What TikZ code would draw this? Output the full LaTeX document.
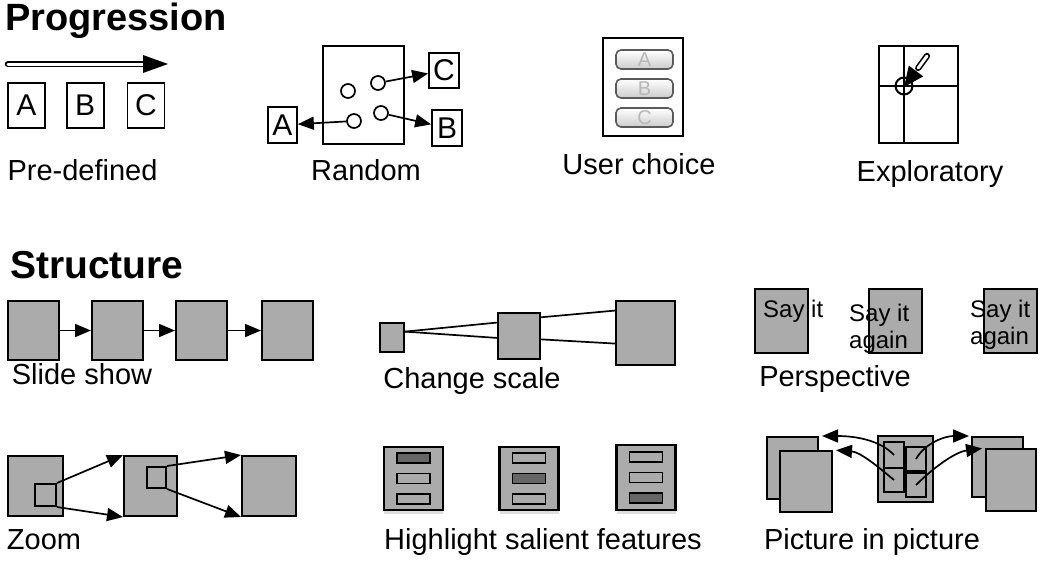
\documentclass[tikz,border=0pt]{standalone}
\usepackage{fontspec}
\setmainfont{Liberation Sans}
\usetikzlibrary{arrows.meta, positioning, calc, shadows}
\definecolor{slidegray}{HTML}{ABABAB}
\definecolor{markgray}{HTML}{666666}
\definecolor{buttonedge}{HTML}{5A5A5A}
\definecolor{buttontext}{HTML}{B8B8B8}

\begin{document}
\begin{tikzpicture}[x=1pt, y=-1pt,
    heading/.style={font=\bfseries\fontsize{38}{40}\selectfont, anchor=base west, inner sep=0pt},
    caption/.style={font=\fontsize{29}{32}\selectfont, anchor=base, inner sep=0pt},
    letterbox/.style={draw, line width=1.7pt, inner sep=0pt, font=\fontsize{30}{30}\selectfont},
    frame/.style={draw, line width=2pt, inner sep=0pt},
    slide/.style={draw, fill=slidegray, line width=2pt, inner sep=0pt},
    dot/.style={circle, draw, line width=1.7pt, minimum size=14pt, inner sep=0pt},
    button/.style={draw=buttonedge, line width=1.6pt, rounded corners=5pt, minimum width=57pt,
      minimum height=19pt, inner sep=0pt, top color=white, bottom color=gray!40,
      text=buttontext, font=\fontsize{20}{20}\selectfont},
    bar/.style={draw, line width=1.5pt, fill=slidegray, minimum width=33pt, minimum height=10pt, inner sep=0pt},
    saytext/.style={font=\fontsize{24}{27}\selectfont, align=left, anchor=north west, inner sep=0pt},
    lifted/.style={drop shadow={shadow xshift=0pt, shadow yshift=-4pt, opacity=0.25}},
    tip/.style={-{Triangle[length=16pt, width=13pt]}, line width=1.7pt}]

    \useasboundingbox (0,0) rectangle (1051,560);

    % Progression
    \node (progtitle) [heading] at (5,30) {Progression};

    \coordinate (shaftstart) at (8,64);
    \coordinate (shaftend) at (146,64);
    \coordinate (shafttip) at (168,64);
    \draw [double=white, double distance=3pt, line width=1.8pt, line cap=round] (shaftstart) -- (shaftend);
    \fill ($(shafttip)+(-25,-9)$) -- (shafttip) -- ($(shafttip)+(-25,9)$) -- cycle;
    \node (preA) [letterbox, minimum width=37pt, minimum height=45pt] at (26.5,105.5) {A};
    \node (preB) [letterbox, minimum width=37pt, minimum height=45pt, right=20pt of preA] {B};
    \node (preC) [letterbox, minimum width=37pt, minimum height=45pt, right=22pt of preB] {C};
    \node (predef) [caption] at (82.5,180) {Pre-defined};

    \node (randframe) [frame, minimum width=81pt, minimum height=98pt] at (363.5,95) {};
    \node (rdot1) [dot] at (348,91) {};
    \node (rdot2) [dot] at (378,83) {};
    \node (rdot3) [dot] at (354,121) {};
    \node (rdot4) [dot] at (381,113) {};
    \node (randC) [letterbox, minimum width=30pt, minimum height=35pt] at (444,70.5) {C};
    \node (randA) [letterbox, minimum width=29pt, minimum height=36pt] at (282.5,125) {A};
    \node (randB) [letterbox, minimum width=30pt, minimum height=36pt] at (447,128) {B};
    \draw [tip] (rdot2) -- (randC);
    \draw [tip] (rdot3) -- (randA);
    \draw [tip] (rdot4) -- (randB);
    \node (random) [caption] at (366,180) {Random};

    \node (choiceframe) [frame, minimum width=80pt, minimum height=98pt] at (643,87) {};
    \node (choiceA) [button] at (644.5,59.5) {A};
    \node (choiceB) [button] at (644.5,88.5) {B};
    \node (choiceC) [button] at (644.5,117.5) {C};
    \node (userchoice) [caption] at (639,174) {User choice};

    \node (exframe) [frame, minimum width=79pt, minimum height=97pt] at (918.5,94.5) {};
    \draw [line width=2pt] ($(exframe.north west)!0.316!(exframe.north east)$)
      -- ($(exframe.south west)!0.316!(exframe.south east)$);
    \draw [line width=2pt] ($(exframe.north west)!0.41!(exframe.south west)$)
      -- ($(exframe.north east)!0.41!(exframe.south east)$);
    \node (excircle) [dot, line width=2pt, minimum size=17pt] at (904,86) {};
    \coordinate (pintail) at (927,56);
    \coordinate (pinbase) at (916,71);
    \coordinate (pintip) at (904,87);
    \draw [double=white, double distance=3pt, line width=1.6pt, line cap=round] (pintail) -- ($(pintail)!0.8!(pinbase)$);
    \fill (pintip) -- ($(pinbase)!9pt!90:(pintip)$) -- ($(pinbase)!9pt!-90:(pintip)$) -- cycle;
    \node (exploratory) [caption] at (930,181) {Exploratory};

    % Structure
    \node (structtitle) [heading, font=\bfseries\fontsize{39}{41}\selectfont] at (10,278) {Structure};

    \node (show1) [slide, minimum width=51pt, minimum height=59pt] at (33.5,330.5) {};
    \node (show2) [slide, minimum width=51pt, minimum height=59pt, right=31pt of show1] {};
    \node (show3) [slide, minimum width=51pt, minimum height=59pt, right=31pt of show2] {};
    \node (show4) [slide, minimum width=51pt, minimum height=59pt, right=33pt of show3] {};
    \draw [tip] (show1) -- (show2);
    \draw [tip] (show2) -- (show3);
    \draw [tip] (show3) -- (show4);
    \node (slideshow) [caption] at (82,384) {Slide show};

    \node (scale1) [slide, minimum width=24pt, minimum height=29pt] at (392,337.5) {};
    \node (scale2) [slide, minimum width=42pt, minimum height=46pt] at (519,336) {};
    \node (scale3) [slide, minimum width=59pt, minimum height=64pt] at (645.5,333) {};
    \draw [line width=1.7pt] ($(scale1.north east)!0.31!(scale1.south east)$)
      -- ($(scale2.north west)!0.22!(scale2.south west)$);
    \draw [line width=1.7pt] ($(scale1.north east)!0.31!(scale1.south east)$)
      -- ($(scale2.north west)!0.54!(scale2.south west)$);
    \draw [line width=1.7pt] ($(scale2.north east)!0.11!(scale2.south east)$)
      -- ($(scale3.north west)!0.16!(scale3.south west)$);
    \draw [line width=1.7pt] ($(scale2.north east)!0.57!(scale2.south east)$)
      -- ($(scale3.north west)!0.66!(scale3.south west)$);
    \node (changescale) [caption] at (472,388) {Change scale};

    \node (persp1) [slide, minimum width=53pt, minimum height=64pt] at (781.5,321) {};
    \node (persp2) [slide, minimum width=53pt, minimum height=64pt] at (895,321) {};
    \node (persp3) [slide, minimum width=53pt, minimum height=64pt] at (1010,321) {};
    \node (say1) [saytext] at (763,300) {Say it};
    \node (say2) [saytext] at (849,304) {Say it\\again};
    \node (say3) [saytext] at (970,300) {Say it\\again};
    \node (perspective) [caption] at (835,386) {Perspective};

    \node (zoom1) [slide, minimum width=55pt, minimum height=60pt] at (35.5,486) {};
    \node (zoomin1) [slide, minimum width=21pt, minimum height=22pt] at (45.5,495) {};
    \node (zoom2) [slide, minimum width=53pt, minimum height=60pt] at (150.5,486) {};
    \node (zoomin2) [slide, minimum width=19pt, minimum height=21pt] at (156.5,477.5) {};
    \node (zoom3) [slide, minimum width=54pt, minimum height=60pt] at (269,486) {};
    \draw [tip] (zoomin1.north east) -- (zoom2.north west);
    \draw [tip] (zoomin1.south east) -- (zoom2.south west);
    \draw [tip] (zoomin2.north east) -- (zoom3.north west);
    \draw [tip] (zoomin2.south east) -- (zoom3.south west);
    \node (zoomcap) [caption] at (44,549) {Zoom};

    \node (salient1) [slide, lifted, line width=2.2pt, minimum width=59pt, minimum height=63pt] at (413.5,478.5) {};
    \node (sbar12) [bar] at (salient1.center) {};
    \node (sbar11) [bar, fill=markgray, above=9pt of sbar12] {};
    \node (sbar13) [bar, below=9pt of sbar12] {};
    \node (salient2) [slide, lifted, line width=2.2pt, minimum width=59pt, minimum height=63pt] at (529,478.5) {};
    \node (sbar22) [bar, fill=markgray] at (salient2.center) {};
    \node (sbar21) [bar, above=9pt of sbar22] {};
    \node (sbar23) [bar, below=9pt of sbar22] {};
    \node (salient3) [slide, lifted, line width=2.2pt, minimum width=59pt, minimum height=65pt] at (646,477.5) {};
    \node (sbar32) [bar] at (salient3.center) {};
    \node (sbar31) [bar, above=9pt of sbar32] {};
    \node (sbar33) [bar, fill=markgray, below=9pt of sbar32] {};
    \node (highlight) [caption] at (543,549) {Highlight salient features};

    \node (pipback1) [slide, minimum width=51pt, minimum height=62pt] at (792.5,468) {};
    \node (pipfront1) [slide, minimum width=52pt, minimum height=61pt] at (806,481.5) {};
    \node (pipmain) [slide, minimum width=55pt, minimum height=66pt] at (905.5,469) {};
    \node (piptl) [slide, minimum width=20pt, minimum height=26pt] at (894,455) {};
    \node (pipbl) [slide, minimum width=20pt, minimum height=24pt] at (894,480) {};
    \node (piptr) [slide, minimum width=20pt, minimum height=24pt] at (916,459) {};
    \node (pipbr) [slide, minimum width=20pt, minimum height=24pt] at (916,485) {};
    \node (pipback2) [slide, minimum width=51pt, minimum height=60pt] at (997.5,467) {};
    \node (pipfront2) [slide, minimum width=50pt, minimum height=62pt] at (1011,480) {};
    \draw [tip, shorten >=3pt] (piptl.center) .. controls (880,440) and (855,436) .. (pipback1.north east);
    \draw [tip, shorten >=3pt] (pipbl.center) .. controls (876,465) and (860,452) .. (pipfront1.north east);
    \draw [tip, shorten >=2pt] (piptr.center) .. controls (925,443) and (945,436) .. (pipback2.north west);
    \draw [tip, shorten >=3pt] (pipbr.center) .. controls (933,468) and (955,452) .. (pipfront2.north west);
    \node (pictinpict) [caption] at (872,549) {Picture in picture};
\end{tikzpicture}
\end{document}
